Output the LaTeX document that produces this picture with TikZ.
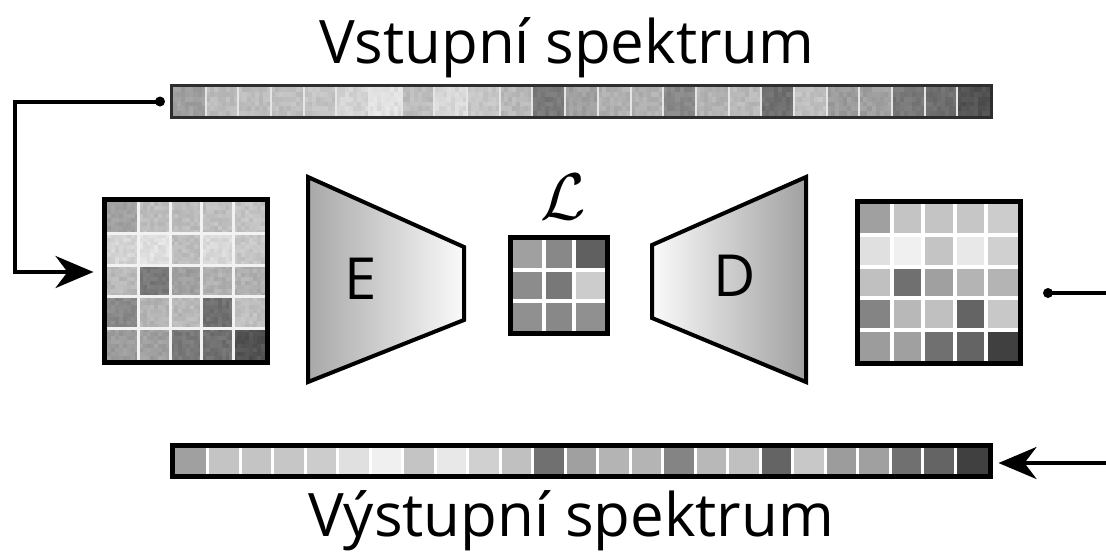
\documentclass[tikz,border=0pt]{standalone}
\usepackage{fontspec}
\setmainfont{Open Sans}
\usetikzlibrary{arrows.meta}

\definecolor{encdark}{gray}{0.66}
\definecolor{decdark}{gray}{0.63}
\definecolor{pale}{gray}{0.98}
\definecolor{barrim}{gray}{0.18}

\begin{document}
\begin{tikzpicture}[x=1pt,y=-1pt,
  frame/.style={draw=black, line width=5pt},
  holder/.style={inner sep=0pt, outer sep=0pt},
  link/.style={line width=4pt, draw=black},
  tip/.style={-{Stealth[length=38pt,width=32pt,inset=12pt]}},
  dot/.style={circle, fill=black, inner sep=0pt, minimum size=10pt},
  title/.style={font=\fontsize{60}{70}\selectfont, anchor=base, inner sep=0pt},
  letter/.style={font=\fontsize{58}{66}\selectfont, inner sep=0pt},
  funnel/.style={draw=black, line width=4pt, line join=miter},
  gap/.style={draw=white, line width=4pt},
]
\useasboundingbox (0,0) rectangle (1106,558);
\pgfmathsetseed{4711}

% ---------- frames (placeholders carrying the names) ----------
\node[holder, minimum width=820pt, minimum height=32pt] (inbar)  at (581.5,101.5) {};
\node[holder, minimum width=818pt, minimum height=31pt] (outbar) at (581.5,461) {};
\node[holder, minimum width=163pt, minimum height=163pt] (ingrid)  at (186,281) {};
\node[holder, minimum width=163pt, minimum height=162pt] (outgrid) at (939,282.5) {};
\node[holder, minimum width=97pt, minimum height=96pt] (latent)   at (559,285.5) {};

% ---------- input spectrum: textured strip of 25 bins ----------
\foreach \v [count=\k from 0] in {160,196,196,198,204,224,240,196,232,208,192,112,160,180,180,132,184,192,100,200,156,160,112,100,64} {
  \foreach \i in {0,...,7} {
    \foreach \j in {0,...,5} {
      \pgfmathrandominteger{\r}{-9}{9}
      \pgfmathtruncatemacro\g{0.8*\v+32+\r}
      \fill[fill={rgb,255:red,\g;green,\g;blue,\g}]
        (173+\k*32.68+\i*4.085, 87+\j*4.833) rectangle ++(4.2,4.95);
    }
  }
}
\foreach \k in {1,...,24}
  \draw[white!80!gray, line width=2pt] (173+\k*32.68,87) -- ++(0,29);
\draw[draw=barrim, line width=3pt] (inbar.north west) rectangle (inbar.south east);

% ---------- input 5x5 map, textured ----------
\foreach \v [count=\k from 0] in {160,196,196,198,204,224,240,196,232,208,192,112,160,180,180,132,184,192,100,200,156,160,112,100,64} {
  \pgfmathtruncatemacro\cc{mod(\k,5)}
  \pgfmathtruncatemacro\rr{div(\k,5)}
  \foreach \i in {0,...,7} {
    \foreach \j in {0,...,7} {
      \pgfmathrandominteger{\r}{-9}{9}
      \pgfmathtruncatemacro\g{0.8*\v+32+\r}
      \fill[fill={rgb,255:red,\g;green,\g;blue,\g}]
        (107+\cc*31.6+\i*3.95, 202+\rr*31.6+\j*3.95) rectangle ++(4.05,4.05);
    }
  }
}
\foreach \k in {1,...,4} {
  \draw[white!90!gray, line width=3pt] (107+\k*31.6,202) -- ++(0,158);
  \draw[white!90!gray, line width=3pt] (107,202+\k*31.6) -- ++(158,0);
}
\draw[frame] (ingrid.north west) rectangle (ingrid.south east);

% ---------- latent 3x3 map ----------
\foreach \v [count=\k from 0] in {160,136,96,140,120,204,144,136,144} {
  \pgfmathtruncatemacro\cc{mod(\k,3)}
  \pgfmathtruncatemacro\rr{div(\k,3)}
  \fill[fill={rgb,255:red,\v;green,\v;blue,\v}]
    (513+\cc*30.67, 240+\rr*30.33) rectangle ++(30.8,30.5);
}
\foreach \k in {1,2} {
  \draw[gap] (513+\k*30.67,240) -- ++(0,91);
  \draw[gap] (513,240+\k*30.33) -- ++(92,0);
}
\draw[frame] (latent.north west) rectangle (latent.south east);
\node[scale=6.6, inner sep=0pt] (lossmark) at (563,197) {$\mathcal{L}$};

% ---------- output 5x5 map ----------
\foreach \v [count=\k from 0] in {160,196,196,198,204,224,240,196,232,208,192,112,160,180,180,132,184,192,100,200,156,160,112,100,64} {
  \pgfmathtruncatemacro\cc{mod(\k,5)}
  \pgfmathtruncatemacro\rr{div(\k,5)}
  \fill[fill={rgb,255:red,\v;green,\v;blue,\v}]
    (860+\cc*31.6, 204+\rr*31.4) rectangle ++(31.7,31.5);
}
\foreach \k in {1,...,4} {
  \draw[gap] (860+\k*31.6,204) -- ++(0,157);
  \draw[gap] (860,204+\k*31.4) -- ++(158,0);
}
\draw[frame] (outgrid.north west) rectangle (outgrid.south east);

% ---------- output spectrum strip ----------
\foreach \v [count=\k from 0] in {160,196,196,198,204,224,240,196,232,208,192,112,160,180,180,132,184,192,100,200,156,160,112,100,64} {
  \fill[fill={rgb,255:red,\v;green,\v;blue,\v}]
    (175+\k*32.52, 448) rectangle ++(32.6,26);
}
\foreach \k in {1,...,24}
  \draw[white, line width=3pt] (175+\k*32.52,448) -- ++(0,26);
\draw[frame] (outbar.north west) rectangle (outbar.south east);

% ---------- encoder and decoder ----------
\draw[funnel, left color=encdark, right color=pale]
  (308,177) -- (464,247) -- (464,320) -- (308,382) -- cycle;
\node[letter] (enc) at (361,279) {E};
\draw[funnel, left color=pale, right color=decdark]
  (652,245) -- (806,177) -- (806,382) -- (652,318) -- cycle;
\node[letter] (dec) at (735,276) {D};

% ---------- titles ----------
\node[title] (intitle)  at (567,63)  {Vstupní spektrum};
\node[title] (outtitle) at (571,536) {Výstupní spektrum};

% ---------- connectors ----------
\node[dot] (dotin) at (160,101.5) {};
\coordinate (bendin) at (15,101.5);
\draw[link, tip, shorten >=11pt] (dotin.center) -- (bendin) |- ([yshift=9pt]ingrid.west);

\node[dot] (dotout) at (1048,293) {};
\coordinate (rout) at (1110,293);
\draw[link] (dotout.center) -- (rout);

\coordinate (rin) at (1110,463);
\draw[link, tip, shorten >=8pt] (rin) -- (outbar.east |- rin);
\end{tikzpicture}
\end{document}
